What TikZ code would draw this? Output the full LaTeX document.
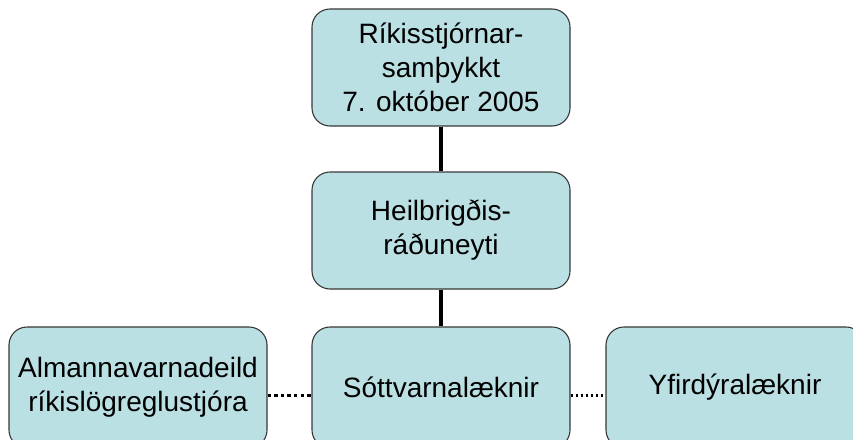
\documentclass[tikz,border=0pt]{standalone}
\usepackage{fontspec}
\setmainfont{Liberation Sans}
\definecolor{boxfill}{RGB}{187,224,227}
\definecolor{boxline}{RGB}{56,56,56}
\begin{document}
\begin{tikzpicture}[x=1pt,y=1pt,
  orgbox/.style={draw=boxline, line width=1.1pt, fill=boxfill, rounded corners=18pt,
    minimum width=258pt, minimum height=117pt, inner sep=0pt, align=center,
    font=\fontsize{28}{34}\selectfont},
  solidlink/.style={line width=3.6pt, black},
  dotlinkA/.style={line width=3.4pt, black, dash pattern=on 3.4pt off 3.2pt},
  dotlinkB/.style={line width=2.2pt, black, dash pattern=on 2.6pt off 2.4pt}]
\useasboundingbox (0,0) rectangle (853,-439);
\clip (0,0) rectangle (853,-439);
\node[orgbox] (top) at (441,-67.5) {Ríkisstjórnar-\\samþykkt\\7. október 2005};
\node[orgbox] (mid) at (441,-230.5) {Heilbrigðis-\\ráðuneyti};
\node[orgbox, minimum height=121pt] (sott) at (441,-387.5) {Sóttvarnalæknir};
\node[orgbox, minimum height=121pt] (alm) at (138,-387.5) {Almannavarnadeild\\ríkislögreglustjóra};
\node[orgbox, minimum height=121pt] (yfir) at (735,-387.5) {Yfirdýralæknir};
\draw[solidlink] (top.south) -- (mid.north);
\draw[solidlink] (mid.south) -- (sott.north);
\draw[dotlinkA] ([yshift=-8pt]alm.east) -- ([yshift=-8pt]sott.west);
\draw[dotlinkB] ([yshift=-8pt]sott.east) -- ([yshift=-8pt]yfir.west);
\end{tikzpicture}
\end{document}
